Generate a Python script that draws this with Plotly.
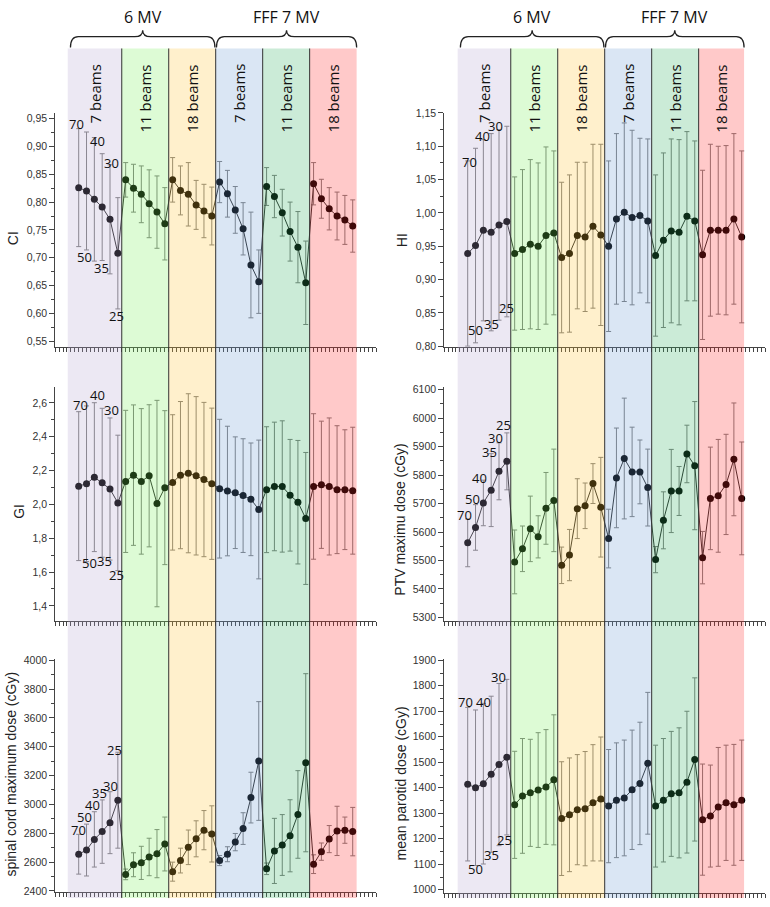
import plotly.graph_objects as go

W, H = 770, 907

# ---------------- data ----------------
angles = ["70", "50", "40", "35", "30", "25"]
beam_groups = ["7 beams", "11 beams", "18 beams", "7 beams", "11 beams", "18 beams"]
energies = ["6 MV", "FFF 7 MV"]

ci_mean = [.826, .820, .805, .791, .769, .708,
           .840, .825, .814, .797, .782, .761,
           .840, .821, .814, .795, .784, .775,
           .836, .815, .786, .752, .687, .657,
           .828, .810, .781, .747, .719, .655,
           .833, .806, .788, .775, .768, .757]
ci_sd = [.106, .106, .111, .096, .098, .100,
         .031, .043, .051, .061, .065, .065,
         .040, .044, .057, .044, .048, .052,
         .037, .042, .042, .047, .095, .057,
         .034, .038, .042, .053, .064, .075,
         .038, .035, .038, .043, .044, .047]

hi_mean = [.939, .951, .974, .971, .982, .987,
           .939, .945, .953, .950, .966, .970,
           .933, .939, .966, .964, .980, .967,
           .950, .991, 1.001, .993, .996, .988,
           .936, .959, .973, .971, .995, .988,
           .937, .974, .974, .974, .991, .964]
hi_sd = [.139, .146, .136, .148, .143, .143,
         .115, .120, .127, .125, .133, .123,
         .113, .118, .110, .112, .123, .136,
         .128, .128, .134, .131, .116, .123,
         .121, .131, .138, .139, .127, .120,
         .127, .129, .126, .127, .128, .129]

gi_mean = [2.108, 2.122, 2.161, 2.128, 2.091, 2.009,
           2.136, 2.173, 2.136, 2.169, 2.005, 2.099,
           2.130, 2.173, 2.184, 2.169, 2.147, 2.122,
           2.093, 2.079, 2.069, 2.052, 2.030, 1.970,
           2.087, 2.106, 2.106, 2.054, 2.013, 1.917,
           2.106, 2.116, 2.106, 2.087, 2.087, 2.081]
gi_sd = [.44, .46, .44, .44, .42, .40,
         .42, .415, .43, .42, .61, .455,
         .40, .435, .47, .468, .456, .447,
         .41, .383, .33, .336, .333, .41,
         .372, .38, .388, .33, .365, .39,
         .43, .376, .405, .378, .354, .375]

ptv_mean = [5562, 5616, 5702, 5747, 5813, 5848,
            5495, 5541, 5611, 5583, 5683, 5711,
            5483, 5519, 5682, 5692, 5770, 5687,
            5577, 5790, 5858, 5811, 5811, 5756,
            5503, 5641, 5744, 5744, 5874, 5833,
            5510, 5718, 5727, 5767, 5855, 5718]
ptv_sd = [84, 80, 80, 128, 100, 100,
          112, 80, 115, 74, 126, 180,
          64, 90, 105, 80, 70, 175,
          103, 175, 212, 157, 112, 135,
          46, 100, 146, 86, 101, 225,
          92, 180, 198, 176, 198, 198]

sc_mean = [2654, 2683, 2757, 2811, 2873, 3029,
           2514, 2581, 2594, 2635, 2658, 2725,
           2533, 2610, 2702, 2761, 2821, 2795,
           2610, 2654, 2738, 2832, 3047, 3301,
           2553, 2677, 2718, 2782, 2930, 3289,
           2585, 2672, 2759, 2816, 2821, 2811]
sc_sd = [138, 180, 192, 220, 215, 333,
         37, 83, 115, 130, 167, 187,
         66, 86, 120, 125, 136, 195,
         35, 52, 60, 110, 176, 412,
         40, 226, 211, 250, 304, 618,
         65, 60, 94, 171, 91, 168]

par_mean = [1414, 1400, 1416, 1453, 1491, 1520,
            1333, 1368, 1380, 1391, 1403, 1431,
            1279, 1294, 1314, 1318, 1341, 1356,
            1328, 1351, 1360, 1392, 1417, 1496,
            1328, 1351, 1376, 1380, 1422, 1511,
            1275, 1289, 1325, 1341, 1333, 1351]
par_sd = [301, 305, 315, 306, 318, 305,
          210, 225, 210, 225, 225, 255,
          223, 223, 216, 224, 228, 243,
          222, 225, 227, 234, 240, 278,
          239, 242, 245, 255, 278, 320,
          218, 200, 233, 226, 237, 236]

# ---------------- styling / layout ----------------
def py(px):
    return 1 - px / H

band_fill = ["rgb(179,163,207)", "rgb(119,239,87)", "rgb(255,195,51)",
             "rgb(107,155,211)", "rgb(47,175,95)", "rgb(255,39,39)"]
BAND_OP = 0.25

xdom = {"L": [55.2 / W, 376.2 / W], "R": [444.2 / W, 765.2 / W]}
XR = [-3, 38]

panels = [
    dict(mean=ci_mean, sd=ci_sd, col="L", top=108, bot=345, rng=[0.5399, 0.9607], dt=0.05, mn=0.025,
         fmt=".2f", title="CI", tx=13, ty=235),
    dict(mean=hi_mean, sd=hi_sd, col="R", top=108, bot=345, rng=[0.799, 1.1504], dt=0.05, mn=0.025,
         fmt=".2f", title="HI", tx=402, ty=237),
    dict(mean=gi_mean, sd=gi_sd, col="L", top=386, bot=622.7, rng=[1.310, 2.692], dt=0.2, mn=0.1,
         fmt=".1f", title="GI", tx=19, ty=512),
    dict(mean=ptv_mean, sd=ptv_sd, col="R", top=385.7, bot=622.7, rng=[5287, 6109], dt=100, mn=50,
         fmt="d", title="PTV maximu dose (cGy)", tx=400, ty=520),
    dict(mean=sc_mean, sd=sc_sd, col="L", top=661, bot=897.3, rng=[2389, 4009], dt=200, mn=100,
         fmt="d", title="spinal cord maximum dose (cGy)", tx=11, ty=778),
    dict(mean=par_mean, sd=par_sd, col="R", top=661, bot=897.7, rng=[988, 1905], dt=100, mn=50,
         fmt="d", title="mean parotid dose (cGy)", tx=401, ty=787),
]

# angle label positions (x index, y value) per panel
label_pos = [
    [(-0.34, 0.941), (0.68, 0.702), (2.34, 0.909), (2.94, 0.681), (4.13, 0.871), (4.8, 0.595)],
    [(0.17, 1.076), (1.02, 0.824), (1.83, 1.115), (3.07, 0.833), (3.6, 1.131), (4.9, 0.858)],
    [(0.2, 2.587), (1.36, 1.651), (2.34, 2.645), (3.24, 1.664), (4.13, 2.557), (4.8, 1.582)],
    [(-0.43, 5661), (0.64, 5715), (1.53, 5790), (2.75, 5880), (3.6, 5930), (4.6, 5975)],
    [(0.0, 2825), (0.75, 2915), (1.79, 2995), (2.63, 3080), (4.0, 3129), (4.51, 3376)],
    [(-0.34, 1735), (1.06, 1080), (2.0, 1735), (3.07, 1138), (3.9, 1833), (4.64, 1196)],
]

LABEL_FONT = "Open Sans"
TICK_FONT = "Liberation Sans"

fig = go.Figure()
layout = dict(width=W, height=H, margin=dict(l=0, r=0, t=0, b=0),
              paper_bgcolor="white", plot_bgcolor="rgba(0,0,0,0)",
              showlegend=False, separators=",.")
annotations = []
shapes = []

xidx = list(range(36))
for i, p in enumerate(panels):
    n = i + 1
    xa = "x" if n == 1 else f"x{n}"
    ya = "y" if n == 1 else f"y{n}"
    fig.add_trace(go.Scatter(
        x=xidx, y=p["mean"], xaxis=xa, yaxis=ya, mode="lines+markers",
        line=dict(color="#2a2a2a", width=1),
        marker=dict(color="black", size=7),
        error_y=dict(type="data", array=p["sd"], visible=True, color="#7d7d7d",
                     thickness=1, width=2.5),
        cliponaxis=True, hoverinfo="skip",
    ))
    layout["xaxis" if n == 1 else f"xaxis{n}"] = dict(
        domain=xdom[p["col"]], anchor=ya, range=XR, showgrid=False, zeroline=False,
        showline=True, linecolor="#444", linewidth=1, ticks="outside", ticklen=4,
        tickcolor="#444", dtick=0.5, tick0=0, showticklabels=False, fixedrange=True)
    layout["yaxis" if n == 1 else f"yaxis{n}"] = dict(
        domain=[py(p["bot"]), py(p["top"])], anchor=xa, range=p["rng"], showgrid=False,
        zeroline=False, showline=True, linecolor="#444", linewidth=1, ticks="outside",
        ticklen=5, tickcolor="#444", dtick=p["dt"], tick0=0, tickformat=p["fmt"],
        tickfont=dict(family=TICK_FONT, size=10.5, color="#333"),
        minor=dict(dtick=p["mn"], ticks="outside", ticklen=3, tickcolor="#444"),
        fixedrange=True)
    annotations.append(dict(text=p["title"], xref="paper", yref="paper",
                            x=p["tx"] / W, y=py(p["ty"]), textangle=-90, showarrow=False,
                            xanchor="center", yanchor="middle",
                            font=dict(family=TICK_FONT, size=14, color="#222")))
    for lab, (lx, ly) in zip(angles, label_pos[i]):
        annotations.append(dict(text=lab, xref=xa, yref=ya, x=lx, y=ly, showarrow=False,
                                xanchor="center", yanchor="middle", borderpad=0,
                                font=dict(family=LABEL_FONT, size=13, color="#111")))

band_edges = {"x": [-1.4, 5.5, 11.5, 17.5, 23.5, 29.5, 35.5],
              "x2": [-1.28, 5.5, 11.5, 17.5, 23.5, 29.5, 35.3]}
ytop, ybot = py(43), py(903)
for xr, edges in band_edges.items():
    for b in range(6):
        shapes.append(dict(type="rect", xref=xr, yref="paper", x0=edges[b], x1=edges[b + 1],
                           y0=ybot, y1=ytop, fillcolor=band_fill[b], opacity=BAND_OP,
                           line=dict(width=0), layer="above"))
        annotations.append(dict(text=beam_groups[b], xref=xr, yref="paper",
                                x=(edges[b] + edges[b + 1]) / 2, y=py(57), textangle=-90,
                                showarrow=False, xanchor="center", yanchor="top",
                                font=dict(family=LABEL_FONT, size=15, color="#111")))
    for e in edges[1:6]:
        shapes.append(dict(type="line", xref=xr, yref="paper", x0=e, x1=e, y0=ybot, y1=ytop,
                           line=dict(color="#333", width=1), layer="above"))
    yE, yL, yA = py(42), py(31), py(24.5)
    for k, (a, b) in enumerate([(edges[0] + 0.35, 17.4), (17.6, edges[6])]):
        m = (a + b) / 2
        r = 1.0
        path = (f"M {a},{yE} Q {a},{yL} {a + r},{yL} L {m - r},{yL} Q {m},{yL} {m},{yA} "
                f"Q {m},{yL} {m + r},{yL} L {b - r},{yL} Q {b},{yL} {b},{yE}")
        shapes.append(dict(type="path", xref=xr, yref="paper", path=path,
                           line=dict(color="#222", width=1.3), layer="above"))
        annotations.append(dict(text=energies[k], xref=xr, yref="paper", x=m, y=py(11),
                                showarrow=False, xanchor="center", yanchor="middle",
                                font=dict(family=LABEL_FONT, size=16, color="#111")))

layout["shapes"] = shapes
layout["annotations"] = annotations
fig.update_layout(**layout)
fig.write_html("out.html", config={"displayModeBar": False, "staticPlot": True},
               post_script="document.body.style.margin='0px';document.body.style.overflow='hidden';")
